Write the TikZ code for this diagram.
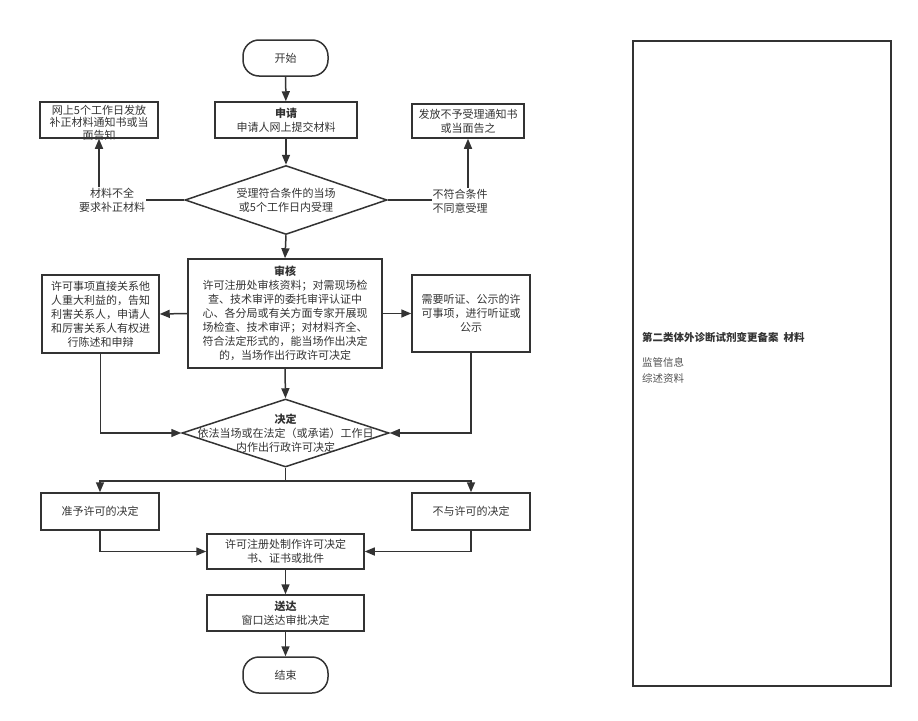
\documentclass[tikz,border=0pt]{standalone}
\usepackage{fontspec}
\setmainfont{Noto Sans CJK SC}
\usetikzlibrary{shapes.geometric,arrows.meta}
\definecolor{ln}{HTML}{333333}
\definecolor{tx}{HTML}{333333}
\tikzset{
  box/.style={draw=ln,line width=1.5pt,rectangle,inner sep=0pt,align=center,text=tx,
    font=\fontsize{11}{14}\selectfont},
  term/.style={box,rounded corners=16pt},
  dia/.style={draw=ln,line width=1.5pt,diamond,inner sep=0pt},
  lbl/.style={fill=white,inner sep=1pt,align=center,text=tx,font=\fontsize{11}{14}\selectfont},
  txt/.style={inner sep=0pt,align=center,text=tx,font=\fontsize{11}{14}\selectfont},
  arr/.style={draw=ln,line width=1.5pt,-{Triangle[length=10pt,width=8pt]}},
  ln/.style={draw=ln,line width=1.5pt},
}
\begin{document}
\begin{tikzpicture}[x=1pt,y=-1pt]
\useasboundingbox (0,0) rectangle (918,720);
% main column
\node[term,minimum width=85pt,minimum height=36pt] (start) at (285.5,58) {开始};
\node[box,minimum width=142pt,minimum height=36pt] (apply) at (286,120) {\textbf{申请}\\申请人网上提交材料};
\node[dia,minimum width=202pt,minimum height=69pt] (dia1) at (286,200) {};
\node[txt] (dia1t) at (286,200) {受理符合条件的当场\\或5个工作日内受理};
\node[box,minimum width=118pt,minimum height=36pt] (boxL1) at (99,120) {};
\node[txt,font=\fontsize{11}{12.6}\selectfont] (boxL1t) at (99,122.5) {网上5个工作日发放\\补正材料通知书或当\\面告知};
\node[box,minimum width=112pt,minimum height=34pt] (boxR1) at (468,121) {发放不予受理通知书\\或当面告之};
\node[box,minimum width=194pt,minimum height=109pt] (review) at (285,313.5) {\textbf{审核}\\许可注册处审核资料；对需现场检\\查、技术审评的委托审评认证中\\心、各分局或有关方面专家开展现\\场检查、技术审评；对材料齐全、\\符合法定形式的，能当场作出决定\\的，当场作出行政许可决定};
\node[box,minimum width=117pt,minimum height=78pt] (boxL2) at (100.5,314) {许可事项直接关系他\\人重大利益的，告知\\利害关系人，申请人\\和厉害关系人有权进\\行陈述和申辩};
\node[box,minimum width=118pt,minimum height=77pt] (boxR2) at (471,313.5) {需要听证、公示的许\\可事项，进行听证或\\公示};
\node[dia,minimum width=207pt,minimum height=68pt] (dia2) at (285.5,433) {};
\node[txt] (dia2t) at (285.5,433) {\textbf{决定}\\依法当场或在法定（或承诺）工作日\\内作出行政许可决定};
\coordinate (split) at (285.5,481);
\node[box,minimum width=118pt,minimum height=37pt] (grant) at (100,511.5) {准予许可的决定};
\node[box,minimum width=118pt,minimum height=37pt] (deny) at (471,511.5) {不与许可的决定};
\node[box,minimum width=157pt,minimum height=35pt] (make) at (285.5,551.5) {许可注册处制作许可决定\\书、证书或批件};
\node[box,minimum width=157pt,minimum height=36pt] (deliver) at (285.5,613) {\textbf{送达}\\窗口送达审批决定};
\node[term,minimum width=85pt,minimum height=36pt] (end) at (285.5,675) {结束};
% connectors
\draw[arr] (start) -- (apply);
\draw[arr] (apply) -- (dia1);
\draw[arr] (dia1.west) -| (boxL1.south);
\draw[arr] (dia1.east) -| (boxR1.south);
\node[lbl] (lblL) at (112,200.5) {材料不全\\要求补正材料};
\node[lbl] (lblR) at (460,201) {不符合条件\\不同意受理};
\draw[arr] (dia1.south) -- (review.north);
\draw[arr] (review.west) -- (boxL2.east);
\draw[arr] (review.east) -- (boxR2.west);
\draw[arr] (review.south) -- (dia2.north);
\draw[arr] (boxL2.south) |- (dia2.west);
\draw[arr] (boxR2.south) |- (dia2.east);
\draw[ln] (dia2.south) -- (split);
\draw[arr] (split) -| (grant.north);
\draw[arr] (split) -| (deny.north);
\draw[arr] (grant.south) |- (make.west);
\draw[arr] (deny.south) |- (make.east);
\draw[arr] (make) -- (deliver);
\draw[arr] (deliver) -- (end);
% right panel
\node[draw=ln,line width=1.3pt,minimum width=258pt,minimum height=645pt,inner sep=0pt] (panel) at (762,363.5) {};
\node[anchor=west,inner sep=0pt,text=tx,font=\fontsize{10.5}{12}\selectfont\bfseries] (ptitle) at (642,337) {第二类体外诊断试剂变更备案\ \ 材料};
\node[anchor=north west,inner sep=0pt,align=left,text=tx!85,font=\fontsize{10.5}{16}\selectfont] (plist) at (642,357) {监管信息\\综述资料};
\end{tikzpicture}
\end{document}
